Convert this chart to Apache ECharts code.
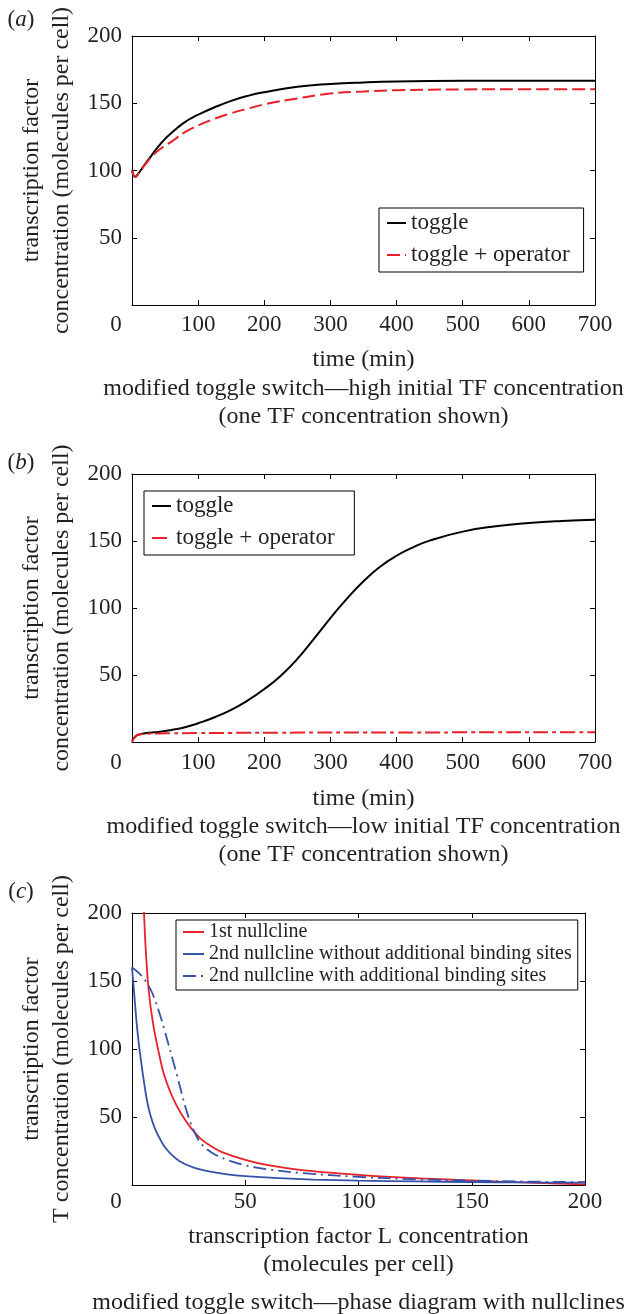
<!DOCTYPE html>
<html>
<head>
<meta charset="utf-8">
<script src="https://cdn.jsdelivr.net/npm/echarts@6/dist/echarts.min.js"></script>
<style>
html,body{margin:0;padding:0;background:#fff;}
#chart{width:626px;height:1314px;}
</style>
</head>
<body>
<div id="chart"></div>
<script>
// ---------- data ----------
// panel (a): high initial TF concentration
const timeA = [0, 5, 10, 20, 30, 40, 50, 60, 70, 80, 90, 100, 125, 150, 175, 200, 250, 300, 350, 400, 500, 600, 700];
const toggleA = [100, 95.3, 98, 105, 111.5, 118, 123.5, 128, 132.3, 136, 139, 141.5, 147, 151.8, 155.5, 158.2, 162.2, 164.3, 165.5, 166.2, 166.7, 166.8, 166.8];
const operatorA = [100, 95.3, 98, 104.5, 110.5, 115, 118.5, 121.5, 125.2, 128.5, 131.2, 133.5, 138.5, 142.6, 146, 149.2, 153.6, 157.2, 158.8, 159.7, 160.3, 160.5, 160.5];

// panel (b): low initial TF concentration
const timeB = [0, 5, 10, 20, 40, 60, 80, 100, 125, 150, 175, 200, 225, 250, 275, 300, 325, 350, 375, 400, 425, 450, 500, 550, 600, 650, 700];
const toggleB = [1, 4, 5.5, 6.5, 7.5, 9, 11, 14, 18.5, 24, 31, 39.5, 49.5, 62, 77, 92.5, 107, 120, 130.8, 139, 145.3, 150.3, 157, 161, 163.5, 165, 165.8];
const operatorB = [0, 4.2, 5.6, 6.1, 6.4, 6.5, 6.6, 6.7, 6.75, 6.8, 6.85, 6.9, 6.95, 7.0, 7.0, 7.0, 7.05, 7.1, 7.1, 7.1, 7.15, 7.15, 7.2, 7.2, 7.2, 7.2, 7.2];

// panel (c): nullclines
const nc1L = [5.0, 5.3, 6, 7, 8, 9, 10, 12, 14, 17, 20, 23, 26, 30, 35, 40, 50, 60, 75, 100, 125, 150, 175, 200];
const nc1T = [215, 200, 175, 150, 134, 122, 112, 96, 82, 68, 57.5, 49, 42, 34.5, 28.5, 24, 18.5, 14.6, 11, 7.5, 5, 3.3, 1.8, 0.5];
const nc2L = [0, 0.5, 1, 2, 3, 4, 5, 6, 7, 8, 10, 12, 14, 17, 21, 27, 34, 42, 50, 65, 80, 100, 125, 150, 175, 200];
const nc2T = [160, 150, 140, 120, 104, 91, 79, 68, 59, 52, 42, 35, 29, 23, 17.5, 13, 10, 7.8, 6.5, 5, 4, 3.2, 2.6, 2.2, 1.9, 1.7];
const nc3L = [0, 3, 6, 9, 12, 14, 16, 18, 20, 22, 24, 26, 28, 30, 33, 37, 42, 50, 60, 75, 100, 125, 150, 175, 200];
const nc3T = [160, 156, 150, 141, 127, 116, 104, 92, 80, 67, 55, 45, 37.5, 31.5, 26.5, 22, 18.5, 14.5, 11.5, 8.8, 6, 4.2, 3.2, 2.5, 2.1];

const timeTicks = { min: 0, max: 700, interval: 100 };
const concTicks = { min: 0, max: 200, interval: 50 };
const lTicks = { min: 0, max: 200, interval: 50 };

const zip = (xs, ys) => xs.map((x, i) => [x, ys[i]]);

// ---------- styling ----------
const FONT = '"Liberation Serif", "Times New Roman", Times, serif';
const TXT = '#231f20';
const RED = '#e8202a';
const BLUE = '#3552a8';

const grids = [
  { left: 132, top: 36, width: 463, height: 269 },
  { left: 132, top: 474, width: 463, height: 268 },
  { left: 132, top: 913, width: 453, height: 272 }
];

function xMain(g, t, name, nameGap, labelMargin) {
  return {
    type: 'value', gridIndex: g, position: 'bottom',
    min: t.min, max: t.max, interval: t.interval,
    name: name, nameLocation: 'middle', nameGap: nameGap,
    nameTextStyle: { fontFamily: FONT, fontSize: 24, color: TXT, lineHeight: 28 },
    axisLine: { show: true, onZero: false, lineStyle: { color: '#000', width: 1 } },
    axisTick: { show: true, inside: true, length: 5, lineStyle: { color: '#000' } },
    splitLine: { show: false },
    axisLabel: {
      margin: labelMargin, fontFamily: FONT, fontSize: 23, color: TXT,
      formatter: v => (v === 0 ? '{z|0}' : String(v)),
      rich: { z: { fontFamily: FONT, fontSize: 23, color: TXT, padding: [0, 32, 0, 0] } }
    }
  };
}
function xTop(g, t) {
  return {
    type: 'value', gridIndex: g, position: 'top',
    min: t.min, max: t.max, interval: t.interval,
    axisLine: { show: true, onZero: false, lineStyle: { color: '#000', width: 1 } },
    axisTick: { show: true, inside: true, length: 5, lineStyle: { color: '#000' } },
    axisLabel: { show: false }, splitLine: { show: false }
  };
}
function yMain(g, t, name, nameGap) {
  return {
    type: 'value', gridIndex: g, position: 'left',
    min: t.min, max: t.max, interval: t.interval,
    name: name, nameLocation: 'middle', nameGap: nameGap, nameRotate: 90,
    nameTextStyle: { fontFamily: FONT, fontSize: 24, color: TXT, lineHeight: 30 },
    axisLine: { show: true, onZero: false, lineStyle: { color: '#000', width: 1 } },
    axisTick: { show: true, inside: true, length: 5, lineStyle: { color: '#000' } },
    splitLine: { show: false },
    axisLabel: {
      margin: 10, fontFamily: FONT, fontSize: 23, color: TXT,
      formatter: v => (v === 0 ? '' : String(v))
    }
  };
}
function yRight(g, t) {
  return {
    type: 'value', gridIndex: g, position: 'right',
    min: t.min, max: t.max, interval: t.interval,
    axisLine: { show: true, onZero: false, lineStyle: { color: '#000', width: 1 } },
    axisTick: { show: true, inside: true, length: 5, lineStyle: { color: '#000' } },
    axisLabel: { show: false }, splitLine: { show: false }
  };
}

function lineSeries(name, xi, yi, data, color, width, dash, smooth) {
  return {
    type: 'line', name: name, xAxisIndex: xi, yAxisIndex: yi,
    data: data, symbol: 'none', showSymbol: false,
    smooth: smooth, clip: true,
    lineStyle: { color: color, width: width, type: dash },
    itemStyle: { color: color },
    emphasis: { disabled: true }, animation: false
  };
}

const legendBase = {
  orient: 'vertical', borderColor: '#000', borderWidth: 1, backgroundColor: '#fff',
  itemWidth: 19, itemHeight: 14, selectedMode: false,
  itemStyle: { opacity: 0 },
  textStyle: { fontFamily: FONT, fontSize: 23, color: TXT, lineHeight: 24 }
};

function caption(text, x, y, size) {
  return {
    type: 'text', x: x, y: y,
    style: { text: text, font: (size || 24) + 'px ' + FONT, fill: TXT, align: 'center', verticalAlign: 'middle' }
  };
}
function panelLabel(letter, y) {
  return {
    type: 'text', x: 21, y: y,
    style: {
      text: '({i|' + letter + '})', font: '23px ' + FONT, fill: TXT, align: 'center', verticalAlign: 'middle',
      rich: { i: { fontFamily: FONT, fontSize: 23, fontStyle: 'italic', fill: TXT } }
    }
  };
}

const option = {
  animation: false,
  backgroundColor: '#fff',
  grid: grids,
  xAxis: [
    xMain(0, timeTicks, 'time (min)', 41, 8), xTop(0, timeTicks),
    xMain(1, timeTicks, 'time (min)', 43, 9), xTop(1, timeTicks),
    xMain(2, lTicks, 'transcription factor L concentration\n(molecules per cell)', 38, 5), xTop(2, lTicks)
  ],
  yAxis: [
    yMain(0, concTicks, 'transcription factor\nconcentration (molecules per cell)', 54), yRight(0, concTicks),
    yMain(1, concTicks, 'transcription factor\nconcentration (molecules per cell)', 54), yRight(1, concTicks),
    yMain(2, concTicks, 'transcription factor\nT concentration (molecules per cell)', 54), yRight(2, concTicks)
  ],
  legend: [
    Object.assign({}, legendBase, { left: 379, top: 208, padding: [3, 14, 5, 7], itemGap: 8,
      data: ['toggle', 'toggle + operator'] }),
    Object.assign({}, legendBase, { left: 144, top: 491, padding: [3, 14, 5, 7], itemGap: 8,
      data: ['toggle ', 'toggle + operator '] }),
    Object.assign({}, legendBase, { left: 176, top: 920, padding: [2, 6, 4, 6], itemGap: 2, itemWidth: 21,
      textStyle: { fontFamily: FONT, fontSize: 20, color: TXT, lineHeight: 20 },
      data: ['1st nullcline', '2nd nullcline without additional binding sites', '2nd nullcline with additional binding sites'] })
  ],
  series: [
    lineSeries('toggle', 0, 0, zip(timeA, toggleA), '#000', 2, 'solid', 0.5),
    lineSeries('toggle + operator', 0, 0, zip(timeA, operatorA), RED, 2, [13, 5], 0.5),
    lineSeries('toggle ', 2, 2, zip(timeB, toggleB), '#000', 2, 'solid', 0.5),
    lineSeries('toggle + operator ', 2, 2, zip(timeB, operatorB), RED, 2, [15, 4, 4, 4], 0.5),
    lineSeries('1st nullcline', 4, 4, zip(nc1L, nc1T), RED, 1.8, 'solid', 0.35),
    lineSeries('2nd nullcline without additional binding sites', 4, 4, zip(nc2L, nc2T), BLUE, 1.8, 'solid', 0.35),
    lineSeries('2nd nullcline with additional binding sites', 4, 4, zip(nc3L, nc3T), BLUE, 1.8, [13, 5, 2, 5], 0.35)
  ],
  graphic: [
    panelLabel('a', 20),
    panelLabel('b', 463),
    panelLabel('c', 892),
    caption('modified toggle switch\u2014high initial TF concentration', 363.5, 389),
    caption('(one TF concentration shown)', 363.5, 417),
    caption('modified toggle switch\u2014low initial TF concentration', 363.5, 827),
    caption('(one TF concentration shown)', 363.5, 855),
    caption('modified toggle switch\u2014phase diagram with nullclines', 358.5, 1303)
  ]
};

const chart = echarts.init(document.getElementById('chart'), null, { renderer: 'canvas' });
chart.setOption(option);
</script>
</body>
</html>
